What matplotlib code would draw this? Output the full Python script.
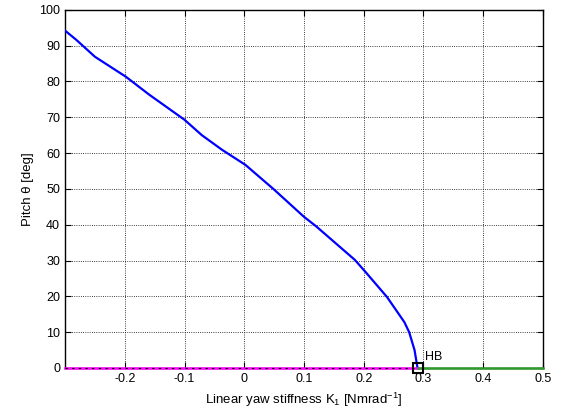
import matplotlib
matplotlib.use("Agg")
import matplotlib.pyplot as plt

plt.rcParams['font.family'] = ['Liberation Sans', 'DejaVu Sans']
plt.rcParams['mathtext.fontset'] = 'custom'
plt.rcParams['mathtext.rm'] = 'Liberation Sans'
plt.rcParams['mathtext.it'] = 'Liberation Sans'

k1 = [-0.3, -0.281, -0.25, -0.198, -0.159, -0.1, -0.071, -0.037, 0.002, 0.05, 0.1, 0.12,
      0.185, 0.203, 0.239, 0.268, 0.276, 0.285, 0.29]
pitch = [94.2, 91.6, 86.9, 81.3, 76.3, 69.3, 65.0, 60.9, 56.7, 49.8, 42.2, 39.6,
         30.2, 26.8, 19.8, 12.8, 10.0, 5.0, 0.0]
hb_k = 0.29
unstable_x = [-0.3, 0.29]
stable_x = [0.29, 0.5]
zero = [0, 0]

fig = plt.figure(figsize=(5.61, 4.16), dpi=100)
ax = fig.add_axes([0.1159, 0.1154, 0.852, 0.861])

ax.plot(unstable_x, zero, color='#ff00ff', lw=1.8, zorder=6, clip_on=False)
ax.plot(unstable_x, zero, color='black', lw=0.8, ls=(0, (2, 4)), zorder=7, clip_on=False)
ax.plot(stable_x, zero, color='#2e9a2e', lw=1.8, zorder=6, clip_on=False)
ax.plot(k1, pitch, color='#0000ff', lw=1.6, zorder=4)
ax.plot([hb_k], [0], marker='s', ms=7, mfc='none', mec='black', mew=1.5, zorder=8, clip_on=False)
ax.text(hb_k + 0.012, 2.2, 'HB', fontsize=9)

ax.set_xlim(-0.3, 0.5)
ax.set_ylim(0, 100)
ax.set_xticks([-0.2, -0.1, 0, 0.1, 0.2, 0.3, 0.4, 0.5])
ax.set_xticklabels(['-0.2', '-0.1', '0', '0.1', '0.2', '0.3', '0.4', '0.5'])
ax.set_yticks(range(0, 101, 10))
ax.tick_params(direction='in', top=True, right=True, labelsize=9, length=4, width=0.8)
ax.grid(True, color='black', ls=':', lw=0.6)
for s in ax.spines.values():
    s.set_linewidth(1.0)

ax.set_xlabel('Linear yaw stiffness K$_1$ [Nmrad$^{-1}$]', fontsize=9.5)
ax.set_ylabel('Pitch θ [deg]', fontsize=9.5)

fig.savefig('out.png', dpi=100)
